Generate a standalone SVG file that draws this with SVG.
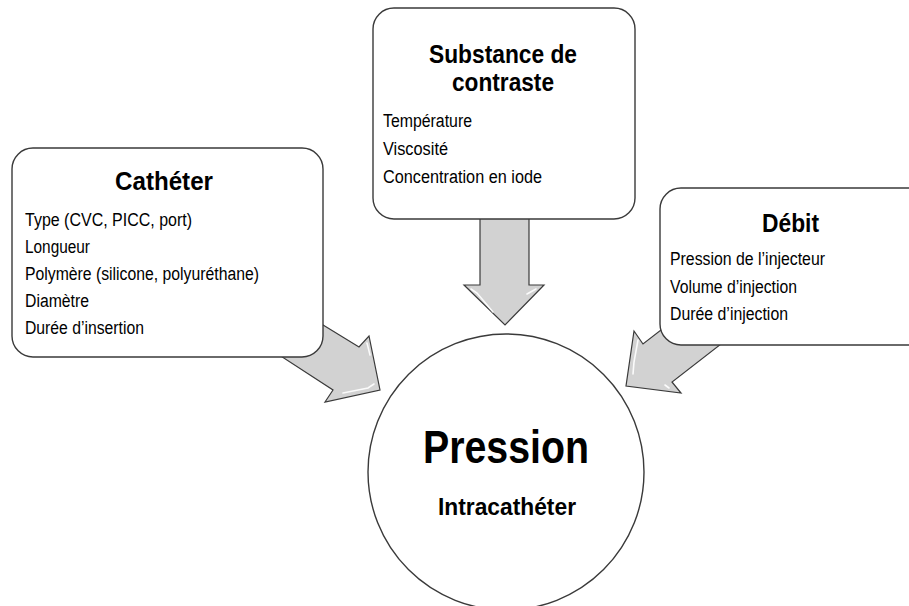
<svg xmlns="http://www.w3.org/2000/svg" width="909" height="606" viewBox="0 0 909 606">
<style>
.box{fill:#fff;stroke:#3a3a3a;stroke-width:1.4}
.arr{fill:#d2d2d2;stroke:#3a3a3a;stroke-width:1.2;stroke-linejoin:miter}
.hl{fill:none;stroke:#fff;stroke-width:1.6;stroke-linecap:round;opacity:0.9}
.t{font-family:"Liberation Sans",Arial,sans-serif;fill:#000}
.title{font-weight:bold;font-size:25px}
.item{font-size:18px}
</style>
<rect width="909" height="606" fill="#fff"/>
<g id="connectors">
  <polygon class="arr" points="480,210 529,210 529,285 544,285 505,325 464,285 480,285"/>
  <polyline class="hl" points="471,289 477,293 493,312"/>
  <polyline class="hl" points="536,289 527,294"/>
  <polygon class="arr" points="279,298 359,347 369,336 380,390 325,402 333,390 253,338"/>
  <polyline class="hl" points="343,393 368,388 374,384"/>
  <polyline class="hl" points="367,343 370,355"/>
  <polygon class="arr" points="723,282 643,344 634,331 626,386 681,393 672,382 752,320"/>
  <polyline class="hl" points="638,340 634,362 633,374"/>
  <polyline class="hl" points="665,385 669,388"/>
</g>
<g id="node-catheter">
  <rect class="box" x="12" y="148" width="311" height="209" rx="21"/>
  <text class="t title" x="115" y="190" textLength="98" lengthAdjust="spacingAndGlyphs">Cathéter</text>
  <text class="t item" x="25" y="226" textLength="167" lengthAdjust="spacingAndGlyphs">Type (CVC, PICC, port)</text>
  <text class="t item" x="25" y="253" textLength="65" lengthAdjust="spacingAndGlyphs">Longueur</text>
  <text class="t item" x="25" y="280" textLength="234" lengthAdjust="spacingAndGlyphs">Polymère (silicone, polyuréthane)</text>
  <text class="t item" x="25" y="307" textLength="64" lengthAdjust="spacingAndGlyphs">Diamètre</text>
  <text class="t item" x="25" y="334" textLength="119" lengthAdjust="spacingAndGlyphs">Durée d’insertion</text>
</g>
<g id="node-substance">
  <rect class="box" x="373" y="8" width="262" height="211" rx="21"/>
  <text class="t title" x="429" y="63" textLength="148" lengthAdjust="spacingAndGlyphs">Substance de</text>
  <text class="t title" x="452" y="91" textLength="102" lengthAdjust="spacingAndGlyphs">contraste</text>
  <text class="t item" x="383" y="127" textLength="89" lengthAdjust="spacingAndGlyphs">Température</text>
  <text class="t item" x="383" y="155" textLength="65" lengthAdjust="spacingAndGlyphs">Viscosité</text>
  <text class="t item" x="383" y="183" textLength="159" lengthAdjust="spacingAndGlyphs">Concentration en iode</text>
</g>
<g id="node-debit">
  <rect class="box" x="660" y="188" width="280" height="157" rx="21"/>
  <text class="t title" x="762" y="232" textLength="57" lengthAdjust="spacingAndGlyphs">Débit</text>
  <text class="t item" x="670" y="265" textLength="155" lengthAdjust="spacingAndGlyphs">Pression de l’injecteur</text>
  <text class="t item" x="670" y="293" textLength="127" lengthAdjust="spacingAndGlyphs">Volume d’injection</text>
  <text class="t item" x="670" y="320" textLength="118" lengthAdjust="spacingAndGlyphs">Durée d’injection</text>
</g>
<g id="node-pression">
  <circle class="box" cx="506" cy="472" r="138"/>
  <text class="t" x="423" y="463" font-size="46" font-weight="bold" textLength="166" lengthAdjust="spacingAndGlyphs">Pression</text>
  <text class="t" x="438" y="515" font-size="24" font-weight="bold" textLength="138" lengthAdjust="spacingAndGlyphs">Intracathéter</text>
</g>
</svg>
